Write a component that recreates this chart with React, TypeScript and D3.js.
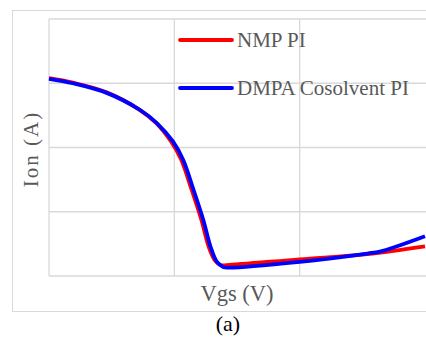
import React, { useRef, useEffect } from 'react';
import * as d3 from 'd3';

// values (arbitrary units: x grid 0..3, y grid 0..4)
const vgsNmp = [0, 0.19, 0.46, 0.72, 0.85, 0.975, 1.055, 1.135, 1.215, 1.275, 1.325, 1.37, 1.42, 2.0, 2.54, 3.0];
const ionNmp = [3.08, 3.01, 2.86, 2.59, 2.39, 2.09, 1.81, 1.36, 0.88, 0.45, 0.24, 0.17, 0.17, 0.26, 0.34, 0.46];
const vgsDmpa = [0, 0.19, 0.46, 0.73, 0.86, 0.99, 1.07, 1.15, 1.23, 1.29, 1.34, 1.39, 1.43, 2.0, 2.54, 2.64, 3.0];
const ionDmpa = [3.07, 3.0, 2.85, 2.58, 2.38, 2.09, 1.81, 1.36, 0.88, 0.45, 0.22, 0.14, 0.13, 0.22, 0.35, 0.38, 0.62];
const seriesNames = ['NMP PI', 'DMPA Cosolvent PI'];
const seriesColours = ['#ff0000', '#0000ff'];
const xGrid = [1, 2];
const yGrid = [1, 2, 3, 4];

const App: React.FC = () => {
  const svgRef = useRef<SVGSVGElement | null>(null);

  useEffect(() => {
    if (!svgRef.current) return;
    const width = 426;
    const height = 339;
    const grid = '#d9d9d9';
    const textCol = '#595959';
    const font = 'Liberation Serif';

    const svg = d3.select(svgRef.current);
    svg.selectAll('*').remove();
    svg.attr('width', width).attr('height', height);

    const x = d3.scaleLinear().domain([0, 3]).range([49, 425]);
    const y = d3.scaleLinear().domain([0, 4]).range([276, 19]);

    // outer chart border (right side runs off the picture)
    svg.append('rect')
      .attr('x', 12.5).attr('y', 10.5)
      .attr('width', 430).attr('height', 301)
      .attr('fill', 'white').attr('stroke', grid).attr('stroke-width', 1);

    // gridlines
    svg.selectAll('.hgrid')
      .data(yGrid)
      .enter().append('line')
      .attr('x1', x(0)).attr('x2', width + 5)
      .attr('y1', d => y(d)).attr('y2', d => y(d))
      .attr('stroke', grid).attr('stroke-width', 1.3);
    svg.selectAll('.vgrid')
      .data(xGrid)
      .enter().append('line')
      .attr('x1', d => x(d)).attr('x2', d => x(d))
      .attr('y1', y(4)).attr('y2', y(0))
      .attr('stroke', grid).attr('stroke-width', 1.3);
    // axes
    svg.append('line')
      .attr('x1', x(0)).attr('x2', x(0)).attr('y1', y(4)).attr('y2', y(0))
      .attr('stroke', grid).attr('stroke-width', 1.3);
    svg.append('line')
      .attr('x1', x(0)).attr('x2', width + 5).attr('y1', y(0)).attr('y2', y(0))
      .attr('stroke', grid).attr('stroke-width', 1.3);

    const line = d3.line<[number, number]>()
      .x(d => x(d[0]))
      .y(d => y(d[1]))
      .curve(d3.curveCatmullRom.alpha(0.5));

    const series: [number, number][][] = [
      vgsNmp.map((v, i) => [v, ionNmp[i]]),
      vgsDmpa.map((v, i) => [v, ionDmpa[i]]),
    ];

    series.forEach((pts, i) => {
      svg.append('path')
        .attr('d', line(pts))
        .attr('fill', 'none')
        .attr('stroke', seriesColours[i])
        .attr('stroke-width', 3.8)
        .attr('stroke-linejoin', 'round');
    });

    // legend
    const legY = [40, 88];
    seriesNames.forEach((name, i) => {
      svg.append('line')
        .attr('x1', 180).attr('x2', 232)
        .attr('y1', legY[i]).attr('y2', legY[i])
        .attr('stroke', seriesColours[i]).attr('stroke-width', 3.8)
        .attr('stroke-linecap', 'round');
      svg.append('text')
        .attr('x', 237).attr('y', legY[i] + 7)
        .attr('font-family', font).attr('font-size', 21)
        .attr('fill', textCol)
        .text(name);
    });

    // axis titles
    svg.append('text')
      .attr('x', 237).attr('y', 301)
      .attr('text-anchor', 'middle')
      .attr('font-family', font).attr('font-size', 22.5)
      .attr('fill', textCol)
      .text('Vgs (V)');
    svg.append('text')
      .attr('transform', 'translate(38,149) rotate(-90)')
      .attr('text-anchor', 'middle')
      .attr('font-family', font).attr('font-size', 21)
      .attr('letter-spacing', 2)
      .attr('fill', textCol)
      .text('Ion (A)');

    svg.append('text')
      .attr('x', 228).attr('y', 331)
      .attr('text-anchor', 'middle')
      .attr('font-family', font).attr('font-size', 22)
      .attr('fill', '#000')
      .text('(a)');
  }, []);

  return (
    <div style={{ position: 'absolute', left: 0, top: 0, width: 426, height: 339, overflow: 'hidden', background: 'white' }}>
      <svg ref={svgRef} style={{ display: 'block' }} />
    </div>
  );
};

export default App;
